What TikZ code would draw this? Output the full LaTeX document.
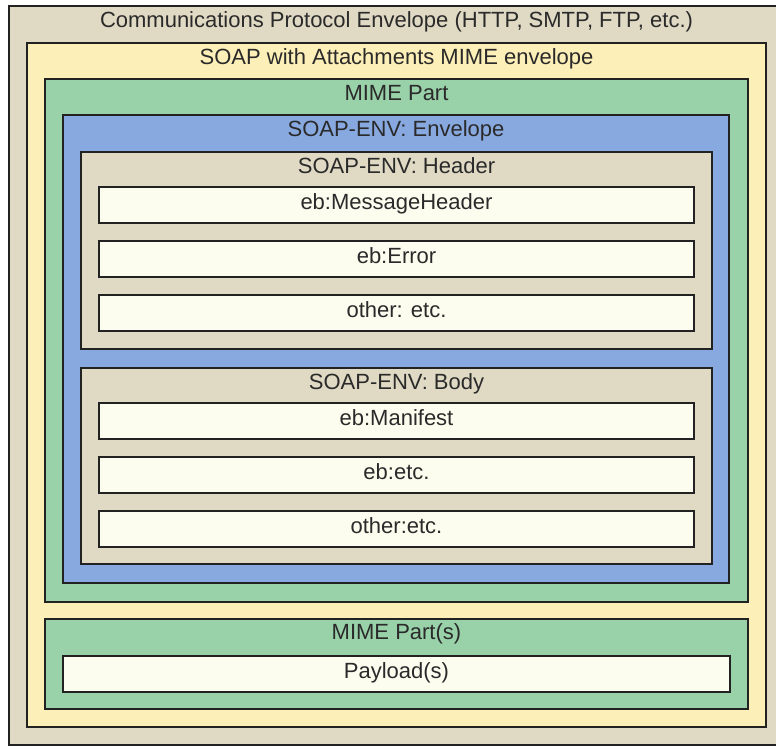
\documentclass[tikz,border=0pt]{standalone}
\usepackage{fontspec}
\setmainfont{Liberation Sans}
\definecolor{tanbg}{HTML}{E0DAC4}
\definecolor{yel}{HTML}{FDEFB8}
\definecolor{grn}{HTML}{99D1A9}
\definecolor{blu}{HTML}{88A9E0}
\definecolor{wht}{HTML}{FDFDEF}
\definecolor{edge}{HTML}{222222}
\definecolor{txt}{HTML}{2A2A2A}
\begin{document}
\begin{tikzpicture}[x=1pt,y=-1pt,
  frame/.style={draw=edge, line width=1.8pt, inner sep=0pt, outer sep=0pt, anchor=north west},
  lbl/.style={anchor=base, inner sep=0pt, text=txt, font=\fontsize{22}{24}\selectfont}]
\useasboundingbox (0,0) rectangle (776,747);
\clip (0,0) rectangle (776,747);
\fill[white] (0,0) rectangle (776,747);
% boxes
\node[frame, fill=tanbg, minimum width=770pt, minimum height=739pt] (outer) at (9,6) {};
\node[frame, fill=yel, minimum width=739pt, minimum height=684pt] (soap) at (27,43) {};
\node[frame, fill=grn, minimum width=703pt, minimum height=523pt] (mime1) at (45,79) {};
\node[frame, fill=blu, minimum width=666pt, minimum height=468pt] (env) at (63,115) {};
\node[frame, fill=tanbg, minimum width=631pt, minimum height=197pt] (hdr) at (81,152) {};
\node[frame, fill=wht, minimum width=595pt, minimum height=36pt] (mh) at (99,187) {};
\node[frame, fill=wht, minimum width=595pt, minimum height=36pt] (err) at (99,241) {};
\node[frame, fill=wht, minimum width=595pt, minimum height=36pt] (oth1) at (99,295) {};
\node[frame, fill=tanbg, minimum width=631pt, minimum height=196pt] (body) at (81,368) {};
\node[frame, fill=wht, minimum width=595pt, minimum height=36pt] (man) at (99,403) {};
\node[frame, fill=wht, minimum width=595pt, minimum height=36pt] (ebetc) at (99,457) {};
\node[frame, fill=wht, minimum width=595pt, minimum height=36pt] (oth2) at (99,511) {};
\node[frame, fill=grn, minimum width=703pt, minimum height=90pt] (mime2) at (45,619) {};
\node[frame, fill=wht, minimum width=667pt, minimum height=36pt] (pay) at (63,656) {};
% labels
\node[lbl] (outer-t) at ([yshift=-21.5pt]soap.north |- outer.north) {Communications Protocol Envelope (HTTP, SMTP, FTP, etc.)};
\node[lbl] (soap-t) at ([yshift=-21.5pt]soap.north) {SOAP with Attachments MIME envelope};
\node[lbl] (mime1-t) at ([yshift=-21.5pt]mime1.north) {MIME Part};
\node[lbl] (env-t) at ([yshift=-21.5pt]env.north) {SOAP-ENV: Envelope};
\node[lbl] (hdr-t) at ([yshift=-21pt]hdr.north) {SOAP-ENV: Header};
\node[lbl] (mh-t) at ([yshift=-22pt]mh.north) {eb:MessageHeader};
\node[lbl] (err-t) at ([yshift=-22pt]err.north) {eb:Error};
\node[lbl] (oth1-t) at ([yshift=-22pt]oth1.north) {other: etc.};
\node[lbl] (body-t) at ([yshift=-21pt]body.north) {SOAP-ENV: Body};
\node[lbl] (man-t) at ([yshift=-22pt]man.north) {eb:Manifest};
\node[lbl] (ebetc-t) at ([yshift=-22pt]ebetc.north) {eb:etc.};
\node[lbl] (oth2-t) at ([yshift=-22pt]oth2.north) {other:etc.};
\node[lbl] (mime2-t) at ([yshift=-20pt]mime2.north) {MIME Part(s)};
\node[lbl] (pay-t) at ([yshift=-22pt]pay.north) {Payload(s)};
\end{tikzpicture}
\end{document}
